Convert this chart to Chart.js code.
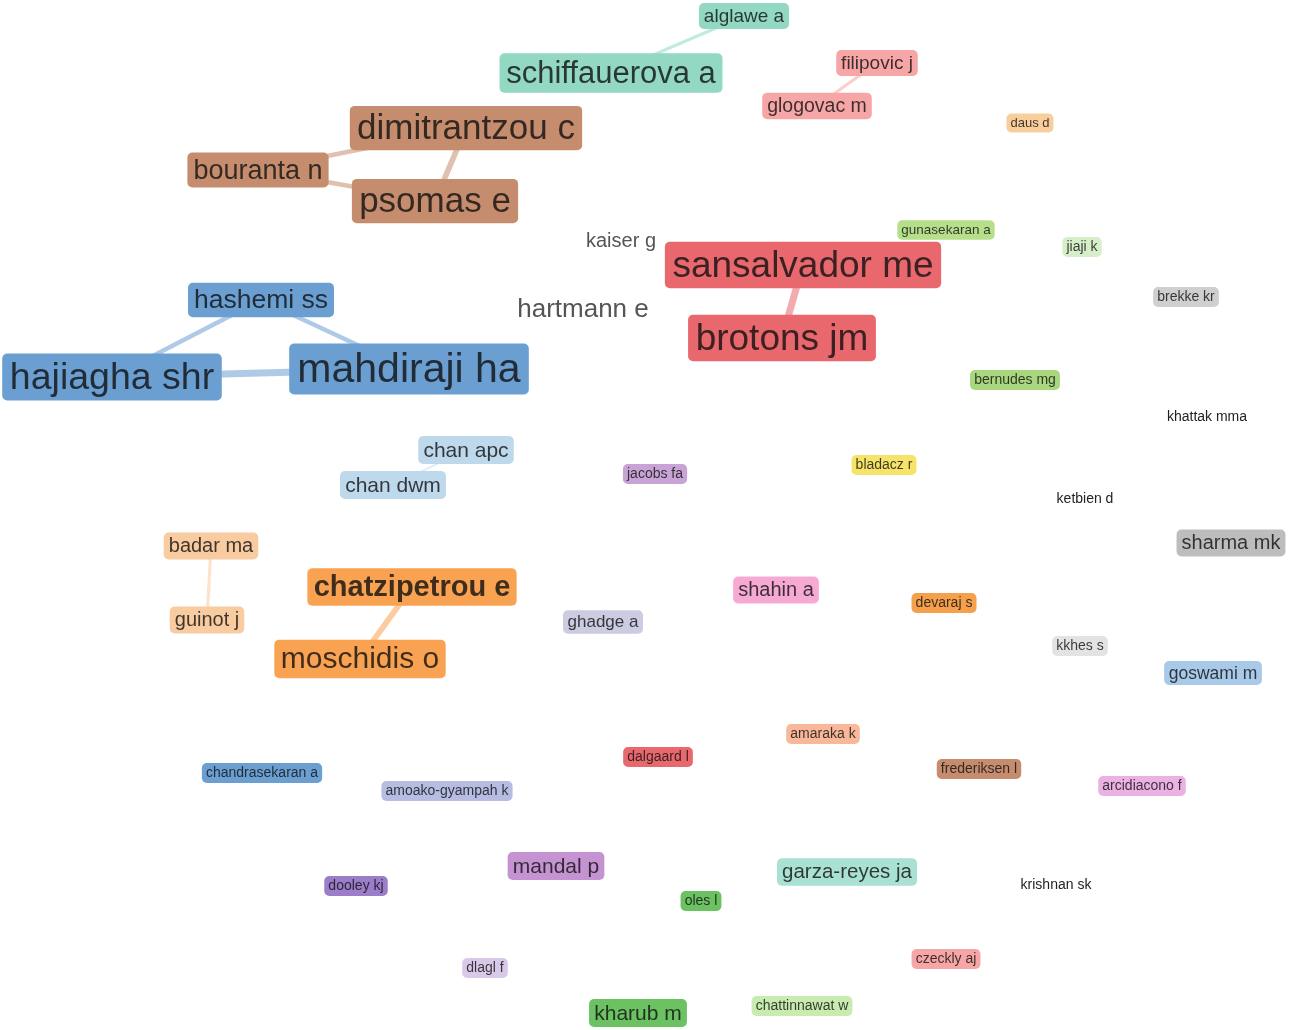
<!DOCTYPE html>
<html>
<head>
<meta charset="utf-8">
<script src="https://cdn.jsdelivr.net/npm/chart.js@4.4.0/dist/chart.umd.min.js"></script>
<style>
  html, body { margin: 0; padding: 0; background: #fff; }
  #wrap { width: 1292px; height: 1030px; }
</style>
</head>
<body>
<div id="wrap"><canvas id="map"></canvas></div>
<script>
// ---------- author nodes (map coordinates, label weight, colour group) ----------
const names = ["alglawe a", "schiffauerova a", "filipovic j", "glogovac m", "daus d",
  "dimitrantzou c", "bouranta n", "psomas e", "kaiser g", "gunasekaran a",
  "sansalvador me", "jiaji k", "brekke kr", "hashemi ss", "hartmann e",
  "brotons jm", "hajiagha shr", "mahdiraji ha", "bernudes mg", "khattak mma",
  "chan apc", "chan dwm", "jacobs fa", "bladacz r", "ketbien d",
  "badar ma", "sharma mk", "chatzipetrou e", "shahin a", "devaraj s",
  "ghadge a", "guinot j", "moschidis o", "kkhes s", "goswami m",
  "amaraka k", "dalgaard l", "chandrasekaran a", "frederiksen l", "amoako-gyampah k",
  "arcidiacono f", "mandal p", "garza-reyes ja", "dooley kj", "krishnan sk",
  "oles l", "dlagl f", "czeckly aj", "kharub m", "chattinnawat w"];

const posX = [744, 611, 877, 817, 1030, 466, 258, 435, 621, 946,
  803, 1082, 1186, 261, 583, 782, 112, 409, 1015, 1207,
  466, 393, 655, 884, 1085, 211, 1231, 412, 776, 944,
  603, 207, 360, 1080, 1213, 823, 658, 262, 979, 447,
  1142, 556, 847, 356, 1056, 701, 485, 946, 638, 802];

const posY = [16, 73, 63, 106, 123, 128, 170, 201, 241, 230,
  265, 247, 297, 300, 309, 338, 377, 369, 380, 417,
  450, 485, 474, 465, 499, 546, 543, 587, 590, 603,
  622, 620, 659, 646, 673, 734, 757, 773, 769, 791,
  786, 866, 872, 886, 885, 901, 968, 959, 1013, 1006];

const weights = [19, 31, 19, 19.5, 13, 35, 27, 35, 20, 13.5,
  37, 14, 14, 26.5, 26, 37, 37.5, 41, 14, 14,
  21, 21, 14, 14, 14, 20, 20, 29, 20, 14,
  17, 20, 30, 14, 17.5, 14, 14, 14, 14, 14,
  14, 21, 20.5, 14, 14, 14, 14, 14, 21, 14];

const groups = [0, 0, 1, 1, 2, 3, 3, 3, -1, 4,
  5, 6, 7, 8, -1, 5, 8, 8, 9, -1,
  10, 10, 11, 12, -1, 13, 14, 15, 16, 17,
  18, 13, 15, 19, 20, 21, 5, 8, 3, 22,
  23, 24, 25, 26, -1, 27, 28, 1, 27, 29];

// ---------- co-authorship links ----------
const linkFrom = [0, 2, 6, 6, 5, 10, 13, 13, 16, 20, 25, 27];
const linkTo = [1, 3, 5, 7, 7, 15, 16, 17, 17, 21, 31, 32];
const linkStrength = [2, 2, 3, 3, 4, 5, 3, 3, 5, 1, 2, 4];

// ---------- styling ----------
const palette = ["#92d8c2", "#f6a6a6", "#f8cf9c", "#c68c6e", "#b6df8b",
  "#e8686e", "#d7efc9", "#cfcfcf", "#6b9fd2", "#a9d77e",
  "#bed8ec", "#c8a3d6", "#f6e46a", "#f9cba0", "#bdbdbd",
  "#f9a352", "#f6a9d2", "#f4a04c", "#cbcbe2", "#e3e3e3",
  "#a9c9e9", "#f8b899", "#b7bde2", "#ebb1e3", "#c593d1",
  "#a9e1d2", "#9b7dc9", "#6cc162", "#d9c9e9", "#c8ebb0"];
const boldNames = ["chatzipetrou e"];
const fontFamily = '"Liberation Sans", Arial, sans-serif';

function withAlpha(hex, a) {
    let r = parseInt(hex.slice(1, 3), 16);
    let g = parseInt(hex.slice(3, 5), 16);
    let b = parseInt(hex.slice(5, 7), 16);
    return "rgba(" + r + "," + g + "," + b + "," + a + ")";
}

let nodePoints = [];
for (let i = 0; i < names.length; i++) {
    nodePoints.push({ x: posX[i], y: posY[i] });
}

let datasets = [{
    label: "authors",
    data: nodePoints,
    pointRadius: 0,
    pointHoverRadius: 0
}];

for (let k = 0; k < linkFrom.length; k++) {
    let a = linkFrom[k];
    let b = linkTo[k];
    let col = groups[a] >= 0 ? palette[groups[a]] : "#cccccc";
    datasets.push({
        label: "link" + k,
        data: [{ x: posX[a], y: posY[a] }, { x: posX[b], y: posY[b] }],
        showLine: true,
        borderColor: withAlpha(col, 0.55),
        borderWidth: linkStrength[k] * 1.3 + 0.5,
        pointRadius: 0,
        pointHoverRadius: 0
    });
}

// labels drawn on top of the links
const labelPlugin = {
    id: "nodeLabels",
    afterDatasetsDraw(chart) {
        const ctx = chart.ctx;
        const meta = chart.getDatasetMeta(0);
        let order = names.map((n, i) => i).sort((a, b) => weights[a] - weights[b]);

        ctx.save();
        ctx.textAlign = "center";
        ctx.textBaseline = "middle";
        for (let i of order) {
            let pt = meta.data[i];
            let size = weights[i];
            let bold = boldNames.indexOf(names[i]) >= 0;
            ctx.font = (bold ? "bold " : "") + size + "px " + fontFamily;
            let w = ctx.measureText(names[i]).width;
            let padX = size * 0.15 + 2;
            let h = size * 1.15 + 4;

            if (groups[i] >= 0) {
                ctx.fillStyle = palette[groups[i]];
                ctx.beginPath();
                ctx.roundRect(pt.x - w / 2 - padX, pt.y - h / 2, w + padX * 2, h, Math.min(5, h / 4));
                ctx.fill();
                ctx.fillStyle = "rgba(15,15,15,0.8)";
            } else {
                ctx.fillStyle = size > 16 ? "#555555" : "#222222";
            }
            ctx.fillText(names[i], pt.x, pt.y + size * 0.04);
        }
        ctx.restore();
    }
};

var NetworkMap = new Chart("map", {
    type: "scatter",
    data: { datasets: datasets },
    options: {
        responsive: true,
        maintainAspectRatio: false,
        animation: false,
        layout: { padding: 0 },
        plugins: {
            legend: { display: false },
            tooltip: { enabled: false }
        },
        scales: {
            x: { type: "linear", min: 0, max: 1292, display: false },
            y: { type: "linear", min: 0, max: 1030, reverse: true, display: false }
        }
    },
    plugins: [labelPlugin]
});
</script>
</body>
</html>
